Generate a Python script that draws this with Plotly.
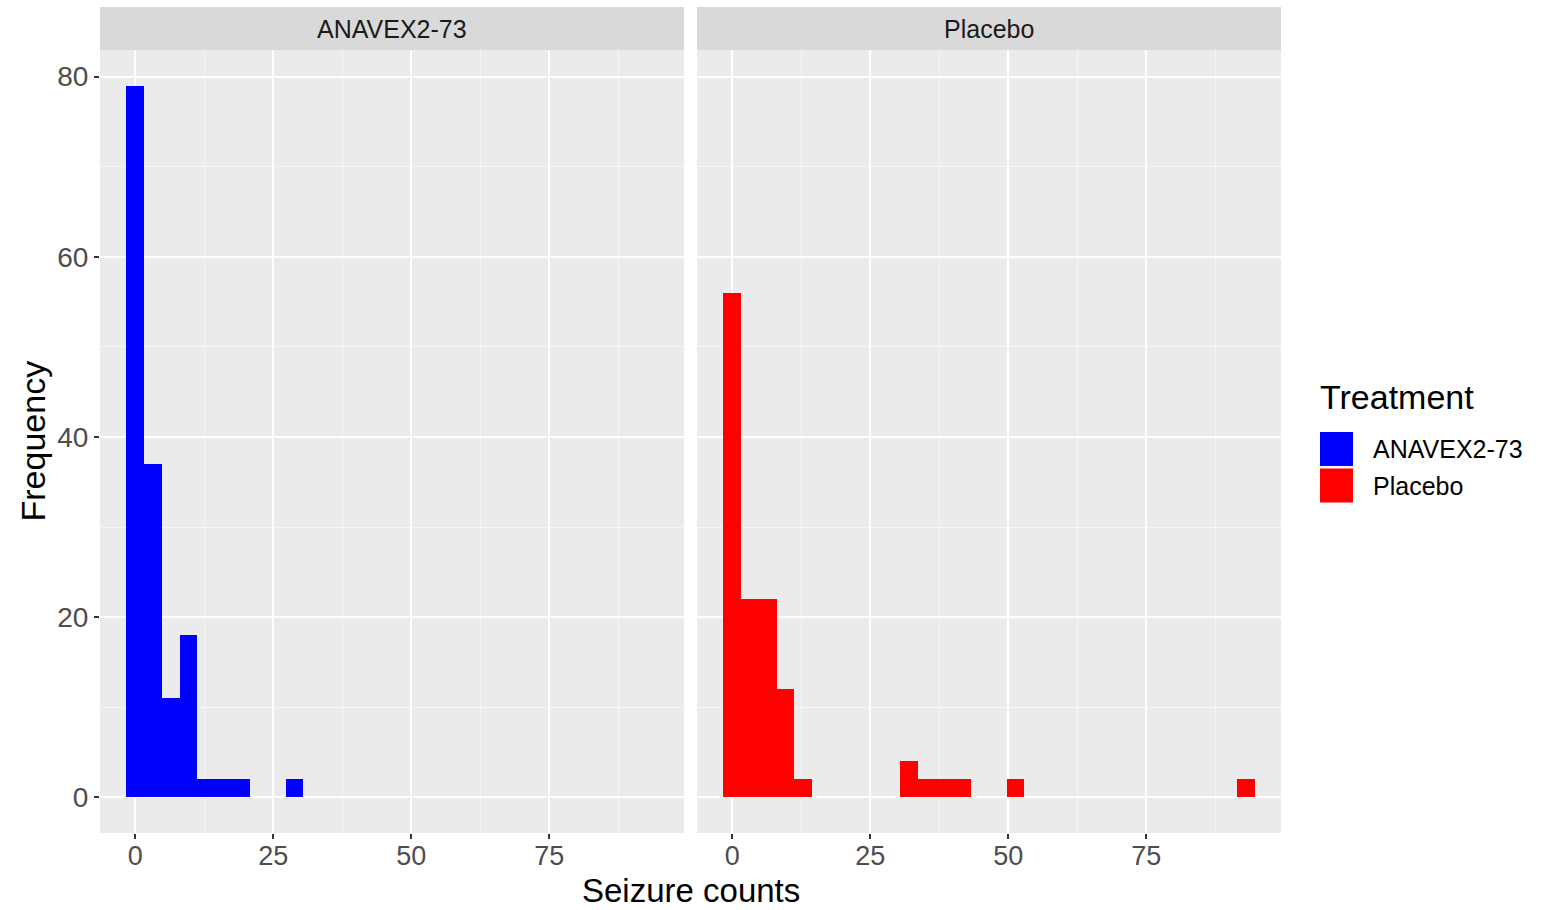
import plotly.graph_objects as go

# ---- data ----
binwidth = 3.21
anavex_centers = [0.0, 3.21, 6.41, 9.62, 12.83, 16.03, 19.24, 28.86]
anavex_counts = [79, 37, 11, 18, 2, 2, 2, 2]
placebo_centers = [0.0, 3.21, 6.41, 9.62, 12.83, 32.07, 35.28, 38.48, 41.69, 51.31, 93.0]
placebo_counts = [56, 22, 22, 12, 2, 4, 2, 2, 2, 2, 2]
panels = ["ANAVEX2-73", "Placebo"]
colors = ["#0000FF", "#FF0000"]
x_ticks = [0, 25, 50, 75]
y_ticks = [0, 20, 40, 60, 80]

W, H = 1547, 910
FONT = "Liberation Sans, Arial, sans-serif"


def px(x):
    return x / W


def py(y):
    return 1 - y / H


fig = go.Figure()
fig.add_trace(go.Bar(x=anavex_centers, y=anavex_counts, width=binwidth,
                     marker=dict(color=colors[0], line=dict(width=0)),
                     name=panels[0], xaxis="x", yaxis="y", showlegend=False))
fig.add_trace(go.Bar(x=placebo_centers, y=placebo_counts, width=binwidth,
                     marker=dict(color=colors[1], line=dict(width=0)),
                     name=panels[1], xaxis="x2", yaxis="y2", showlegend=False))

xcommon = dict(range=[-6.4, 99.4], tickvals=x_ticks, showgrid=True,
               gridcolor="white", gridwidth=2, zeroline=False,
               ticks="outside", ticklen=5, tickwidth=2, tickcolor="#333333",
               ticklabelstandoff=-6,
               tickfont=dict(size=27, color="#4D4D4D", family=FONT),
               minor=dict(tick0=12.5, dtick=25, showgrid=True,
                          gridcolor="#F6F6F6", gridwidth=1, ticks=""),
               showline=False, fixedrange=True)
ycommon = dict(range=[-3.95, 82.95], tickvals=y_ticks, showgrid=True,
               gridcolor="white", gridwidth=2, zeroline=False,
               minor=dict(tick0=10, dtick=20, showgrid=True,
                          gridcolor="#F6F6F6", gridwidth=1, ticks=""),
               domain=[py(833), py(50)], showline=False, fixedrange=True)

fig.update_layout(
    width=W, height=H,
    margin=dict(l=0, r=0, t=0, b=0),
    paper_bgcolor="white", plot_bgcolor="#EBEBEB",
    font=dict(family=FONT),
    bargap=0, showlegend=False,
    xaxis=dict(domain=[px(100), px(684)], anchor="y", **xcommon),
    xaxis2=dict(domain=[px(697), px(1281)], anchor="y2", **xcommon),
    yaxis=dict(anchor="x", ticks="outside", ticklen=5, tickwidth=2,
               tickcolor="#333333",
               tickfont=dict(size=28, color="#4D4D4D", family=FONT), **ycommon),
    yaxis2=dict(anchor="x2", showticklabels=False, ticks="", **ycommon),
)

shapes = []
annotations = []
# facet strips
for (x0, x1), label in zip([(100, 684), (697, 1281)], panels):
    shapes.append(dict(type="rect", xref="paper", yref="paper",
                       x0=px(x0), x1=px(x1), y0=py(50), y1=py(7),
                       fillcolor="#D9D9D9", line=dict(width=0), layer="below"))
    annotations.append(dict(xref="paper", yref="paper", x=px((x0 + x1) / 2),
                            y=py(29), text=label, showarrow=False,
                            xanchor="center", yanchor="middle",
                            font=dict(size=25, color="#1A1A1A", family=FONT)))

# axis titles
annotations.append(dict(xref="paper", yref="paper", x=px(690.5), y=py(890),
                        text="Seizure counts", showarrow=False,
                        xanchor="center", yanchor="middle",
                        font=dict(size=33, color="black", family=FONT)))
annotations.append(dict(xref="paper", yref="paper", x=px(32), y=py(441.5),
                        text="Frequency", showarrow=False, textangle=-90,
                        xanchor="center", yanchor="middle",
                        font=dict(size=34, color="black", family=FONT)))

# legend (drawn manually to match ggplot key size)
annotations.append(dict(xref="paper", yref="paper", x=px(1318), y=py(397),
                        text="Treatment", showarrow=False,
                        xanchor="left", yanchor="middle",
                        font=dict(size=34, color="black", family=FONT)))
for i, (label, col) in enumerate(zip(panels, colors)):
    top = 432 + i * 36.5
    shapes.append(dict(type="rect", xref="paper", yref="paper",
                       x0=px(1320), x1=px(1353), y0=py(top + 34), y1=py(top),
                       fillcolor=col, line=dict(width=0)))
    annotations.append(dict(xref="paper", yref="paper", x=px(1371),
                            y=py(top + 17), text=label, showarrow=False,
                            xanchor="left", yanchor="middle",
                            font=dict(size=25, color="black", family=FONT)))

fig.update_layout(shapes=shapes, annotations=annotations)

fig.write_html("out.html")
